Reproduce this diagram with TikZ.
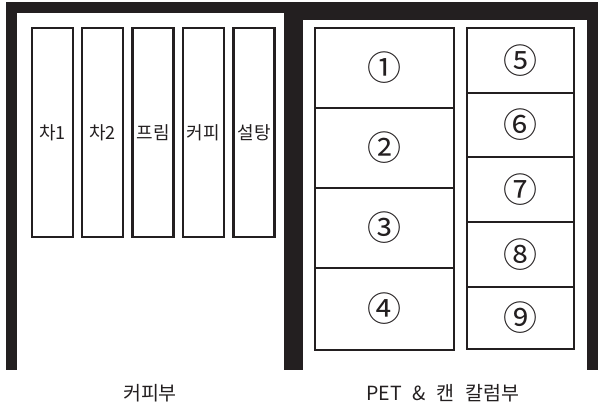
\documentclass[tikz,border=0pt]{standalone}
\usepackage{fontspec}
\setmainfont{Noto Sans CJK KR}
\newfontfamily\circfont{Noto Sans CJK KR}
\definecolor{ink}{HTML}{231F20}
\begin{document}
\begin{tikzpicture}[x=1pt,y=-1pt,
  wall/.style={fill=ink,draw=none},
  bin/.style={draw=ink,line width=2.6pt,inner sep=0pt,text=ink,font=\fontsize{18}{18}\selectfont},
  slot/.style={draw=ink,line width=2.6pt,inner sep=0pt,text=ink,font=\circfont\fontsize{34}{34}\selectfont},
  caption/.style={font=\fontsize{19.5}{19.5}\selectfont,text=ink}]
\useasboundingbox (0,0) rectangle (598,409);
% walls
\fill[wall] (6,2) rectangle (17,370);
\fill[wall] (6,2) rectangle (303,13);
\fill[wall] (284,2) rectangle (303,370);
\fill[wall] (284,2) rectangle (598,20);
\fill[wall] (587,2) rectangle (598,370);
% coffee bins
\node[bin,minimum width=41,minimum height=209] (b1) at (52.5,132.5) {차1};
\node[bin,minimum width=41,minimum height=209] (b2) at (102.5,132.5) {차2};
\node[bin,minimum width=41,minimum height=209] (b3) at (153,132.5) {프림};
\node[bin,minimum width=41,minimum height=209] (b4) at (203.5,132.5) {커피};
\node[bin,minimum width=41,minimum height=209] (b5) at (254,132.5) {설탕};
% big column
\node[slot,minimum width=139,minimum height=80] (s1) at (384.5,68) {①};
\node[slot,minimum width=139,minimum height=80] (s2) at (384.5,148) {②};
\node[slot,minimum width=139,minimum height=80] (s3) at (384.5,228) {③};
\node[slot,minimum width=139,minimum height=82] (s4) at (384.5,309) {④};
% small column
\node[slot,minimum width=107,minimum height=65] (s5) at (520.5,60.5) {⑤};
\node[slot,minimum width=107,minimum height=64] (s6) at (520.5,125) {⑥};
\node[slot,minimum width=107,minimum height=65] (s7) at (520.5,189.5) {⑦};
\node[slot,minimum width=107,minimum height=65] (s8) at (520.5,254.5) {⑧};
\node[slot,minimum width=107,minimum height=62] (s9) at (520.5,318) {⑨};
% captions
\node[caption] (c1) at (150,393) {커피부};
\node[caption] (c2) at (443,393) {PET\hspace{0.55em}\&\hspace{0.55em}캔\hspace{0.55em}칼럼부};
\end{tikzpicture}
\end{document}
